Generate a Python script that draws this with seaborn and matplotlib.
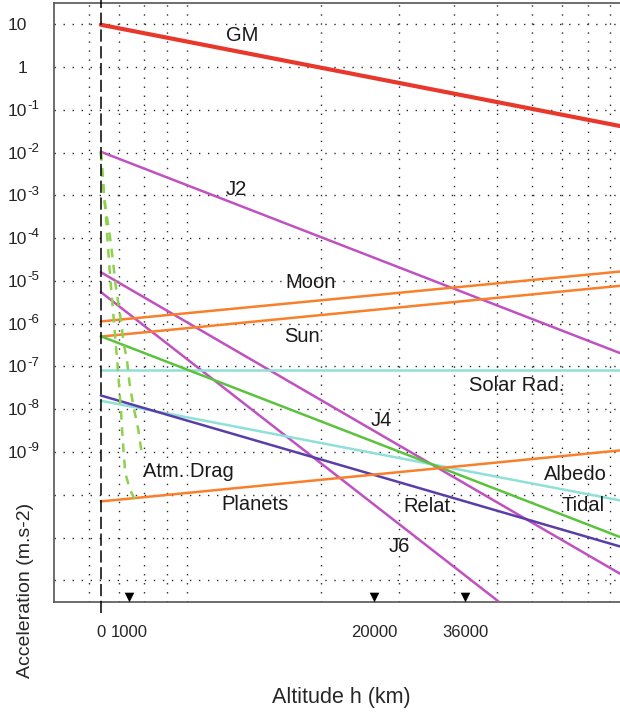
import numpy as np
import pandas as pd
import matplotlib
matplotlib.use("Agg")
import matplotlib.pyplot as plt
from matplotlib.ticker import FixedLocator, FixedFormatter, NullLocator
import seaborn as sns

# ---------------------------------------------------------------- data
R_EARTH = 6378.0                      # km, Earth radius
H_EDGE = 88300.0                      # altitude at the right-hand edge (km)

line_alt = [0.0, H_EDGE]              # altitudes of the straight-line end points
gm_acc = [9.8, 0.042]
j2_acc = [1.05e-2, 2.06e-7]
j4_acc = [1.6e-5, 1.43e-12]
j6_alt = [0.0, 44000.0]
j6_acc = [5.5e-6, 3.2e-13]
moon_acc = [1.13e-6, 1.66e-5]
sun_acc = [5.0e-7, 7.7e-6]
solar_rad_acc = [8.1e-8, 8.1e-8]
tidal_acc = [5.1e-7, 1.03e-11]
relat_acc = [2.1e-8, 6.2e-12]
albedo_acc = [1.58e-8, 7.4e-11]
planets_acc = [7.0e-11, 1.09e-9]

# atmospheric drag, two density models
drag_low_alt = [0, 56, 110, 170, 240, 300, 340, 405, 450, 510, 570, 640, 700,
                745, 803, 864, 1047, 1300]
drag_low_acc = [1.05e-2, 3.0e-3, 9.3e-4, 3.5e-4, 6.3e-5, 1.8e-5, 8.1e-6,
                2.5e-6, 1.1e-6, 3.5e-7, 1.26e-7, 3.2e-8, 1.0e-8, 3.3e-9,
                9.5e-10, 3.2e-10, 1.3e-10, 6.4e-11]
drag_high_alt = [0, 56, 110, 170, 230, 302, 360, 450, 509, 624, 710, 803, 927,
                 1024, 1177, 1372, 1508]
drag_high_acc = [1.05e-2, 3.0e-3, 9.3e-4, 4.5e-4, 2.4e-4, 1.2e-4, 5.9e-5,
                 1.8e-5, 8.1e-6, 2.5e-6, 1.1e-6, 3.5e-7, 1.45e-7, 4.1e-8,
                 1.17e-8, 3.3e-9, 9.5e-10]

# orbit markers (LEO, GNSS, GEO)
orbit_alt = [1000, 20000, 36000]
orbit_marker_level = 4.07e-13

# axis ticks
x_tick_alt = [0, 1000, 20000, 36000]
x_tick_labels = ["0", "1000", "20000", "36000"]
y_tick_vals = [10.0 ** e for e in range(1, -13, -1)]
y_tick_base = ["10", "1", "10", "10", "10", "10", "10", "10", "10", "10", "10",
               "", "", ""]
y_tick_exp = ["", "", "-1", "-2", "-3", "-4", "-5", "-6", "-7", "-8", "-9",
              "", "", ""]
grid_radius = [6000, 7000, 8000, 9000, 10000, 20000, 30000, 40000, 50000,
               60000, 70000, 80000, 90000]

# labels: (text, altitude, acceleration)
curve_labels = [
    ("GM", 6950, 5.6),
    ("J2", 6540, 1.35e-3),
    ("Moon", 12600, 9.0e-6),
    ("Sun", 11800, 4.9e-7),
    ("Solar Rad.", 48850, 3.5e-8),
    ("J4", 21040, 5.4e-9),
    ("Atm. Drag", 3690, 3.5e-10),
    ("Albedo", 68850, 2.95e-10),
    ("Planets", 7800, 5.9e-11),
    ("Relat.", 28800, 5.3e-11),
    ("Tidal", 71800, 5.6e-11),
    ("J6", 23720, 6.1e-12),
]

# ---------------------------------------------------------------- style
sns.set_theme(style="white")
plt.rcParams["font.family"] = ["Liberation Sans", "DejaVu Sans"]
plt.rcParams["text.color"] = "#1a1a1a"

RED = "#e8382b"
MAGENTA = "#c051c0"
ORANGE = "#f97f2b"
GREEN = "#5bc23d"
CYAN = "#8fe0d8"
INDIGO = "#5a3ea8"
DRAG = "#8ed14c"

fig = plt.figure(figsize=(6.2, 7.17), dpi=100)
ax = fig.add_axes([54 / 620, 1 - 601.7 / 717, 1 - 54 / 620, 598.7 / 717])


def to_log_r(h):
    return np.log(np.maximum(np.asarray(h, dtype=float) + R_EARTH, 1.0))


def from_log_r(v):
    return np.exp(v) - R_EARTH


ax.set_xscale("function", functions=(to_log_r, from_log_r))
ax.set_yscale("log")

solid_series = [
    (line_alt, gm_acc, RED, 3.0),
    (line_alt, j2_acc, MAGENTA, 1.8),
    (line_alt, j4_acc, MAGENTA, 1.8),
    (j6_alt, j6_acc, MAGENTA, 1.8),
    (line_alt, moon_acc, ORANGE, 1.8),
    (line_alt, sun_acc, ORANGE, 1.8),
    (line_alt, solar_rad_acc, CYAN, 1.8),
    (line_alt, albedo_acc, CYAN, 1.8),
    (line_alt, tidal_acc, GREEN, 1.8),
    (line_alt, relat_acc, INDIGO, 1.8),
    (line_alt, planets_acc, ORANGE, 1.8),
]
for alt, acc, color, lw in solid_series:
    sns.lineplot(x=alt, y=acc, color=color, lw=lw, ax=ax, zorder=3)

for alt, acc in [(drag_low_alt, drag_low_acc), (drag_high_alt, drag_high_acc)]:
    sns.lineplot(x=alt, y=acc, color=DRAG, lw=1.8, ls=(0, (3.5, 3)),
                 ax=ax, zorder=3, sort=False)

# surface reference line
ax.axvline(0, ymin=-0.019, ymax=1.005, color="black", lw=1.1,
           ls=(0, (8, 3)), clip_on=False, zorder=4)

sns.scatterplot(x=orbit_alt, y=[orbit_marker_level] * len(orbit_alt),
                marker="v", color="black", s=48, linewidth=0, ax=ax, zorder=5)

for text, h, a in curve_labels:
    ax.text(h, a, text, ha="center", va="center", fontsize=14.5, zorder=6)

# ---------------------------------------------------------------- axes
ax.set_xlim(5000 - R_EARTH, 94700 - R_EARTH)
ax.set_ylim(10 ** -12.5, 10 ** 1.5)

ax.xaxis.set_major_locator(FixedLocator(x_tick_alt))
ax.xaxis.set_major_formatter(FixedFormatter(x_tick_labels))
ax.xaxis.set_minor_locator(FixedLocator([r - R_EARTH for r in grid_radius]))
ax.yaxis.set_major_locator(FixedLocator(y_tick_vals))
ax.yaxis.set_major_formatter(FixedFormatter(y_tick_base))
ax.yaxis.set_minor_locator(NullLocator())

ax.tick_params(axis="both", which="both", length=0)
ax.tick_params(axis="x", which="major", pad=17, labelsize=12)
ax.tick_params(axis="y", which="major", pad=19.4, labelsize=12.5)

dot_style = dict(ls=(0, (1, 5.5)), color="#2a2a2a", lw=1.0)
ax.yaxis.grid(True, which="major", **dot_style)
ax.xaxis.grid(True, which="minor", **dot_style)
ax.xaxis.grid(False, which="major")
ax.set_axisbelow(True)

for val, exp in zip(y_tick_vals, y_tick_exp):
    if exp:
        ax.annotate(exp, xy=(0, val), xycoords=ax.get_yaxis_transform(),
                    xytext=(-18.9, 2.8), textcoords="offset points",
                    ha="left", va="center", fontsize=9.5, annotation_clip=False)

for side in ("left", "bottom", "top"):
    ax.spines[side].set_color("#555555")
    ax.spines[side].set_linewidth(1.2)
ax.spines["right"].set_visible(False)

ax.set_xlabel("Altitude h (km)", fontsize=15.5, ha="center", va="center")
ax.xaxis.set_label_coords((341 - 54) / 566, (601.7 - 698) / 598.7)
ax.set_ylabel("Acceleration (m.s-2)", fontsize=14, ha="center", va="center")
ax.yaxis.set_label_coords((26 - 54) / 566, (601.7 - 590) / 598.7)

fig.savefig("out.png", dpi=100)
